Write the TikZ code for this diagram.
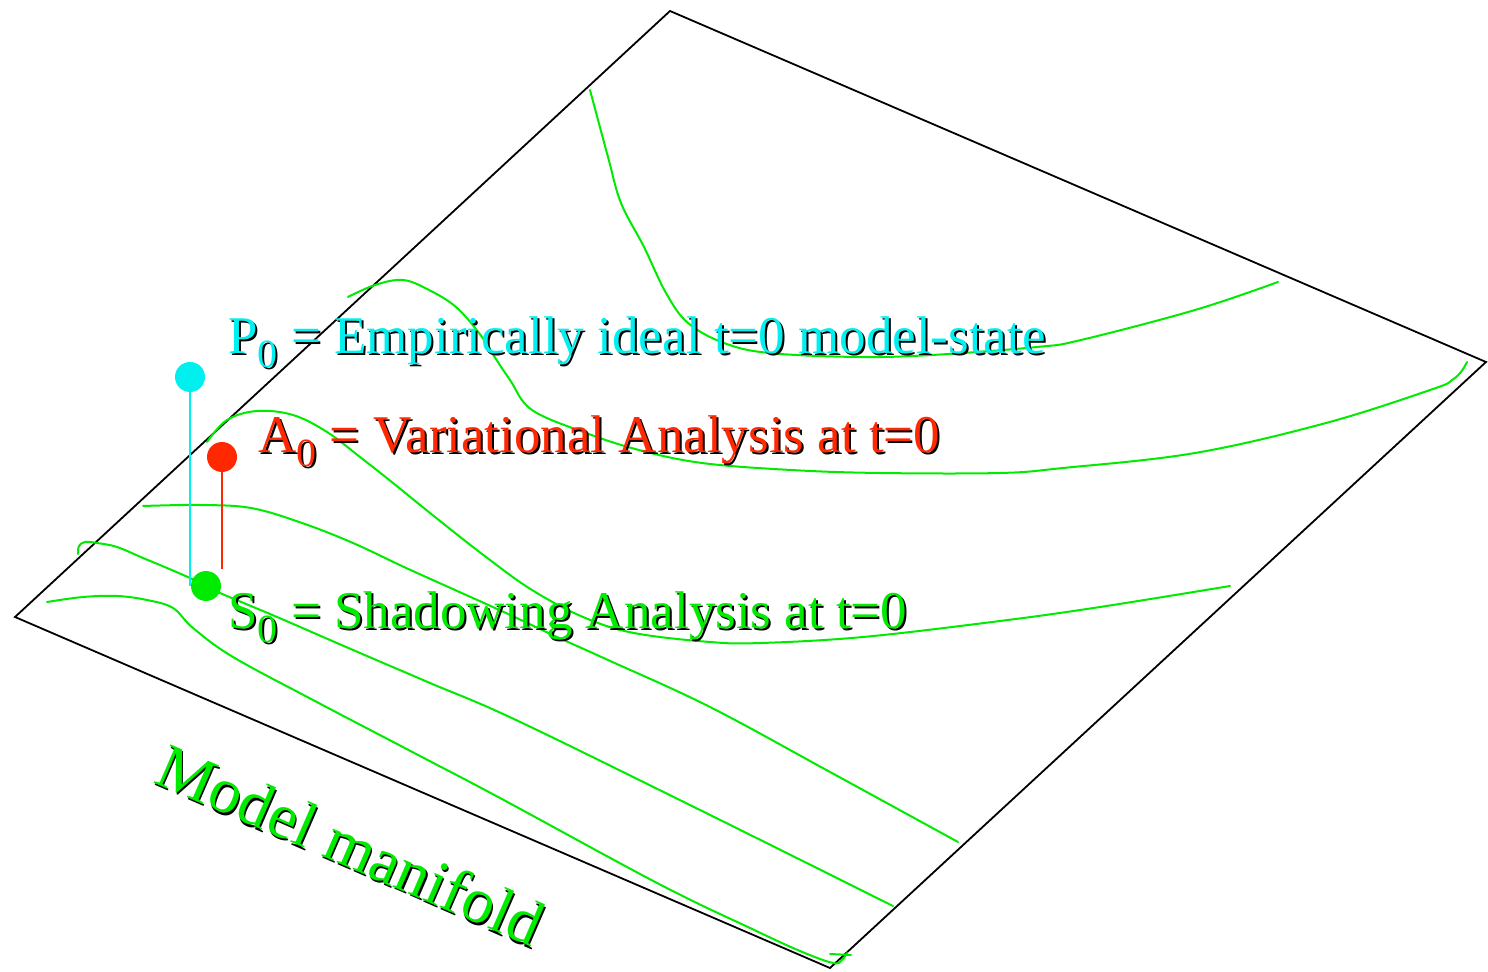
\documentclass[tikz,border=0pt]{standalone}
\usepackage{fontspec}
\setmainfont{Liberation Serif}
\definecolor{mgreen}{RGB}{0,235,0}
\definecolor{mcyan}{RGB}{0,240,240}
\definecolor{mred}{RGB}{255,40,0}
\newcommand\subz{{\fontsize{20}{20}\selectfont\raisebox{-7pt}{0}}}
\tikzset{
  lbl/.style={inner sep=0pt, anchor=base west, font=\fontsize{26.5}{30}\selectfont},
  shadowlbl/.style={lbl, text=black, xshift=1pt, yshift=-1pt},
  bigl/.style={inner sep=0pt, anchor=base west, rotate=-23.5, font=\fontsize{32}{34}\selectfont},
  contour/.style={draw=mgreen, line width=1pt, line cap=round, line join=round},
  dotnode/.style={circle, inner sep=0pt, minimum size=15pt},
  edge/.style={draw=black, line width=0.9pt, line join=miter}
}
\begin{document}
\begin{tikzpicture}[x=0.5pt, y=-0.5pt]
\useasboundingbox (0,0) rectangle (1488,972);
% manifold outline
\coordinate (L) at (15,617);
\coordinate (T) at (670,11);
\coordinate (R) at (1486,362);
\coordinate (B) at (830,968);
\draw[edge] (L) -- (T) -- (R) -- (B) -- cycle;
% contours
\draw[contour] plot[smooth, tension=0.6] coordinates {(590,90) (608,157) (621,203) (644,247) (666,293) (688,323) (724,343) (769,353) (858,357) (932,355) (1037,347) (1081,340) (1195,310) (1278,282)};
\draw[contour] plot[smooth, tension=0.6] coordinates {(348,297) (375,285) (403,280) (429,290) (456,307) (479,333) (492,353) (510,380) (532,410) (586,433) (639,450) (702,463) (791,470) (880,473) (1000,473) (1063,468) (1195,453) (1326,423) (1433,389) (1452,380) (1461,372) (1467,362)};
\draw[contour] plot[smooth, tension=0.6] coordinates {(207,442) (227,420) (257,411) (293,415) (327,432) (360,457) (393,483) (435,517) (486,557) (532,590) (583,617) (634,633) (710,642) (761,643) (863,637) (1000,621) (1100,607) (1230,586)};
\draw[contour] plot[smooth, tension=0.6] coordinates {(143,506) (200,505) (251,508) (302,523) (353,543) (404,567) (455,590) (506,613) (557,637) (608,660) (710,707) (830,772) (958,842)};
\draw[contour] plot[smooth, tension=0.6] coordinates {(78,554) (79,546) (85,542) (97,543) (117,547) (143,558) (167,568) (190,578) (207,586) (220,593) (277,617) (353,650) (430,683) (516,720) (700,810) (893,906)};
\draw[contour] plot[smooth, tension=0.6] coordinates {(47,602) (83,597) (117,596) (147,600) (173,608) (193,628) (233,657) (313,700) (420,756) (500,798) (659,884) (750,928) (800,951) (833,963) (842,960) (847,953)};
\draw[contour] (830,954) -- (851,955);
% state points
\node[dotnode, fill=mcyan] (P) at (190,377) {};
\node[dotnode, fill=mred] (A) at (222,457) {};
\coordinate (Pfoot) at (190,586);
\coordinate (Afoot) at (222,569);
\draw[mcyan, line width=1pt] (P.center) -- (Pfoot);
\draw[mred, line width=1pt] (A.center) -- (Afoot);
\node[dotnode, fill=mgreen] (S) at (206,586) {};
% labels
\node[shadowlbl] at (228,354) {P\subz{} = Empirically ideal t=0 model-state};
\node[lbl, text=mcyan] (Plbl) at (228,354) {P\subz{} = Empirically ideal t=0 model-state};
\node[shadowlbl] at (258,453) {A\subz{} = Variational Analysis at t=0};
\node[lbl, text=mred] (Albl) at (258,453) {A\subz{} = Variational Analysis at t=0};
\node[shadowlbl] at (228,628) {S\subz{} = Shadowing Analysis at t=0};
\node[lbl, text=mgreen] (Slbl) at (228,628) {S\subz{} = Shadowing Analysis at t=0};
\node[bigl, text=black, xshift=1pt, yshift=-1pt] at (152,782) {Model manifold};
\node[bigl, text=mgreen] (M) at (152,782) {Model manifold};
\end{tikzpicture}
\end{document}
